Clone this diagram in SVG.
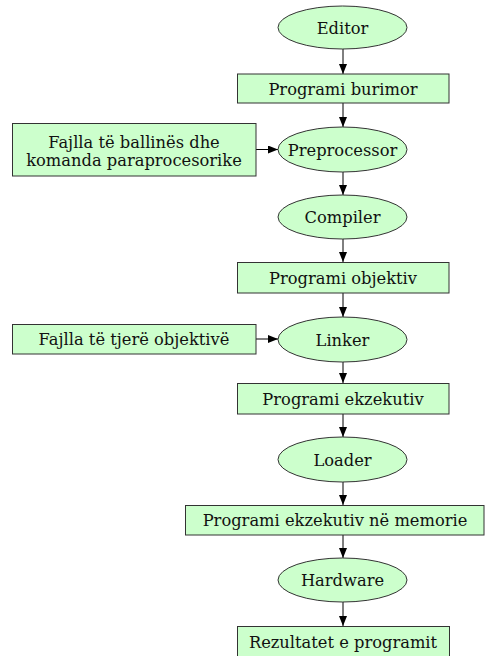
<svg xmlns="http://www.w3.org/2000/svg" width="485" height="656" viewBox="0 0 485 656">
<defs>
<style>
.n{fill:#ccffcc;stroke:#333;stroke-width:1}
.t{font-family:'DejaVu Serif','Liberation Serif',serif;font-size:16.3px;fill:#111;text-anchor:middle}
.e{stroke:#000;stroke-width:1;fill:none;marker-end:url(#arr)}
</style>
<marker id="arr" markerWidth="10" markerHeight="8" refX="10" refY="4" orient="auto" markerUnits="userSpaceOnUse"><path d="M0,0 L10,4 L0,8 z" fill="#000"/></marker>
</defs>
<rect width="485" height="656" fill="#fff"/>
<g id="connectors">
<line class="e" x1="343" y1="49" x2="343" y2="74"/>
<line class="e" x1="343" y1="103" x2="343" y2="127"/>
<line class="e" x1="256" y1="149.5" x2="278" y2="149.5"/>
<line class="e" x1="343" y1="172" x2="343" y2="195"/>
<line class="e" x1="343" y1="239" x2="343" y2="262"/>
<line class="e" x1="343" y1="293" x2="343" y2="317"/>
<line class="e" x1="256" y1="339" x2="278" y2="339"/>
<line class="e" x1="343" y1="362" x2="343" y2="383"/>
<line class="e" x1="343" y1="414" x2="343" y2="437"/>
<line class="e" x1="343" y1="482" x2="343" y2="505"/>
<line class="e" x1="343" y1="535" x2="343" y2="558"/>
<line class="e" x1="343" y1="602" x2="343" y2="626"/>
</g>
<g id="editor"><ellipse class="n" cx="342.5" cy="27.5" rx="64.5" ry="21.5"/><text class="t" x="342.5" y="34">Editor</text></g>
<g id="programi-burimor"><rect class="n" x="237.5" y="74" width="211.5" height="29"/><text class="t" x="343" y="94.5">Programi burimor</text></g>
<g id="fajlla-ballines"><rect class="n" x="12.5" y="123.5" width="243.5" height="52.5"/><text class="t" x="134" y="147.5">Fajlla të ballinës dhe</text><text class="t" x="134" y="166">komanda paraprocesorike</text></g>
<g id="preprocessor"><ellipse class="n" cx="342.5" cy="149.5" rx="64.5" ry="22.5"/><text class="t" x="342.5" y="155.5">Preprocessor</text></g>
<g id="compiler"><ellipse class="n" cx="342.5" cy="217" rx="64.5" ry="22"/><text class="t" x="342.5" y="223">Compiler</text></g>
<g id="programi-objektiv"><rect class="n" x="237.5" y="262.5" width="211.5" height="30.5"/><text class="t" x="343" y="283.5">Programi objektiv</text></g>
<g id="fajlla-tjere"><rect class="n" x="12.5" y="324.5" width="243.5" height="29.5"/><text class="t" x="134" y="345">Fajlla të tjerë objektivë</text></g>
<g id="linker"><ellipse class="n" cx="342.5" cy="339.5" rx="64.5" ry="22.5"/><text class="t" x="342.5" y="345.5">Linker</text></g>
<g id="programi-ekzekutiv"><rect class="n" x="237.5" y="383.5" width="211.5" height="30.5"/><text class="t" x="343" y="404.5">Programi ekzekutiv</text></g>
<g id="loader"><ellipse class="n" cx="342.5" cy="459.5" rx="64.5" ry="22.5"/><text class="t" x="342.5" y="465.5">Loader</text></g>
<g id="programi-memorie"><rect class="n" x="185.5" y="505.5" width="298.5" height="29.5"/><text class="t" x="335" y="526">Programi ekzekutiv në memorie</text></g>
<g id="hardware"><ellipse class="n" cx="342.5" cy="580" rx="64.5" ry="22"/><text class="t" x="342.5" y="586">Hardware</text></g>
<g id="rezultatet"><rect class="n" x="237.5" y="626.5" width="212" height="30"/><text class="t" x="343" y="647.5">Rezultatet e programit</text></g>
</svg>
